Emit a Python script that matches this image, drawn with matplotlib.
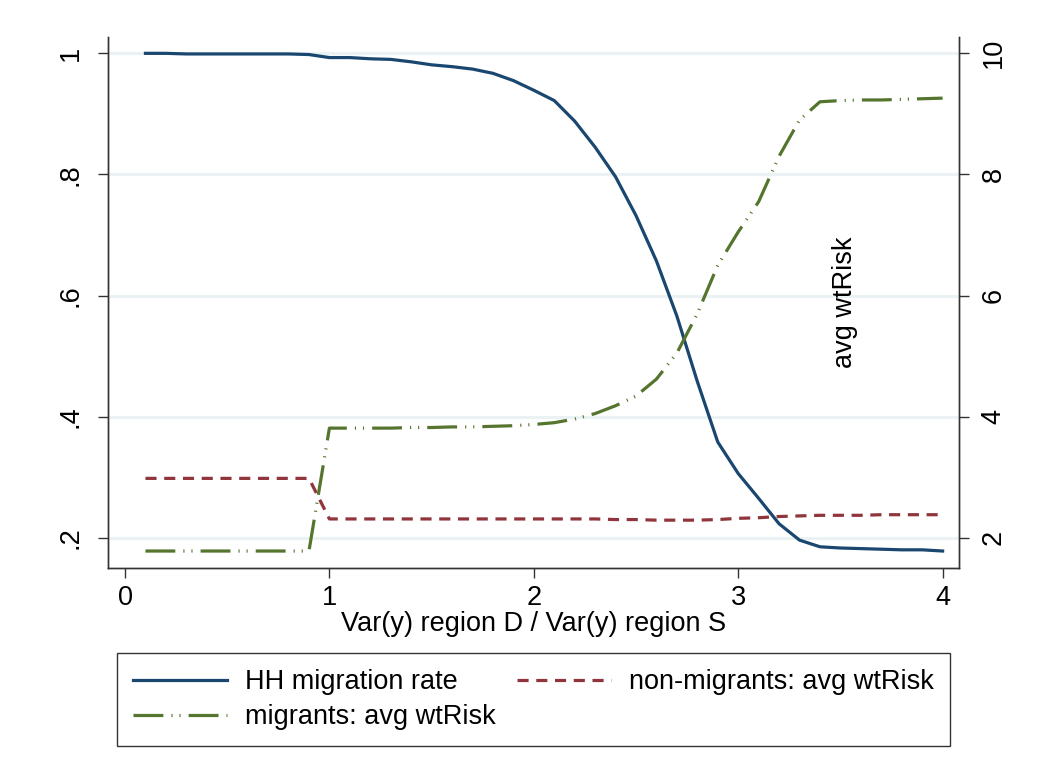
import matplotlib
matplotlib.use("Agg")
import matplotlib.pyplot as plt
import numpy as np

plt.rcParams['font.family'] = ['Liberation Sans', 'DejaVu Sans']
plt.rcParams['lines.scale_dashes'] = False

# Data
x = [0.1, 0.2, 0.3, 0.4, 0.5, 0.6, 0.7, 0.8, 0.9, 1.0,
     1.1, 1.2, 1.3, 1.4, 1.5, 1.6, 1.7, 1.8, 1.9, 2.0,
     2.1, 2.2, 2.3, 2.4, 2.5, 2.6, 2.7, 2.8, 2.9, 3.0,
     3.1, 3.2, 3.3, 3.4, 3.5, 3.6, 3.7, 3.8, 3.9, 4.0]
hh_rate = [1.0, 1.0, 0.999, 0.999, 0.999, 0.999, 0.999, 0.999, 0.998, 0.993,
           0.993, 0.991, 0.990, 0.986, 0.981, 0.978, 0.974, 0.967, 0.955, 0.939,
           0.922, 0.888, 0.845, 0.796, 0.732, 0.657, 0.566, 0.458, 0.358, 0.306,
           0.265, 0.223, 0.196, 0.185, 0.183, 0.182, 0.181, 0.180, 0.180, 0.178]
nonmig_risk = [2.98, 2.98, 2.98, 2.98, 2.98, 2.98, 2.98, 2.98, 2.98, 2.31,
               2.31, 2.31, 2.31, 2.31, 2.31, 2.31, 2.31, 2.31, 2.31, 2.31,
               2.31, 2.31, 2.31, 2.30, 2.30, 2.29, 2.29, 2.29, 2.30, 2.32,
               2.33, 2.35, 2.36, 2.37, 2.37, 2.37, 2.38, 2.38, 2.38, 2.38]
mig_risk = [1.78, 1.78, 1.78, 1.78, 1.78, 1.78, 1.78, 1.78, 1.78, 3.81,
            3.81, 3.81, 3.81, 3.82, 3.82, 3.83, 3.83, 3.84, 3.85, 3.87,
            3.90, 3.96, 4.05, 4.18, 4.34, 4.62, 5.05, 5.70, 6.50, 7.05,
            7.55, 8.30, 8.90, 9.20, 9.22, 9.23, 9.23, 9.24, 9.25, 9.26]

xticks = [0, 1, 2, 3, 4]
yticks_left = [0.2, 0.4, 0.6, 0.8, 1.0]
yticklabels_left = ['.2', '.4', '.6', '.8', '1']
yticks_right = [2, 4, 6, 8, 10]

blue = '#1a476f'
red = '#90353b'
green = '#55752f'
grid_c = '#eaf2f3'
FS = 19.5

fig = plt.figure(figsize=(10.53, 7.69), dpi=100)
ax = fig.add_axes([0.1026, 0.2614, 0.8081, 0.6905])
ax2 = ax.twinx()

ax.set_xlim(-0.083, 4.08)
ax.set_ylim(0.15, 1.027)
ax2.set_ylim(1.5, 10.27)

for yv in yticks_left:
    ax.axhline(yv, color=grid_c, lw=2.2, zorder=0)

l1, = ax.plot(x, hh_rate, color=blue, lw=2.3, zorder=3, label='HH migration rate')
l3, = ax2.plot(x, nonmig_risk, color=red, lw=2.3, zorder=3,
               label='non-migrants: avg wtRisk')
l3.set_dashes([8, 5.5])
l2, = ax2.plot(x, mig_risk, color=green, lw=2.3, zorder=3,
               label='migrants: avg wtRisk')
l2.set_dashes([21.5, 5.8, 0.8, 5.0, 0.8, 5.8])

ax.set_xticks(xticks)
ax.set_xticklabels([str(v) for v in xticks])
ax.set_yticks(yticks_left)
ax.set_yticklabels(yticklabels_left, rotation=90, va='center')
ax2.set_yticks(yticks_right)
ax2.set_yticklabels([str(v) for v in yticks_right], rotation=90, va='center')

for a in (ax, ax2):
    a.spines['top'].set_visible(False)
    for s in a.spines.values():
        s.set_color('#333333')
        s.set_linewidth(1.0)
    a.tick_params(labelsize=FS, length=7.5, width=1.0, color='#333333')
ax.tick_params(axis='x', length=7.5, pad=5)
ax.tick_params(axis='y', pad=10)
ax2.tick_params(axis='y', pad=8)

ax.set_xlabel('Var(y) region D / Var(y) region S', fontsize=FS, labelpad=0)
ax.text(0.866, 0.50, 'avg wtRisk', transform=ax.transAxes, rotation=90,
        fontsize=FS, ha='center', va='center')

leg = fig.legend(handles=[l1, l2, l3], ncol=2, loc='upper left',
                 bbox_to_anchor=(0.111, 0.035, 0.791, 0.116), mode='expand',
                 fontsize=FS, frameon=True, fancybox=False, handlelength=3.47,
                 handletextpad=0.66, borderaxespad=0, labelspacing=0.33,
                 borderpad=0.6)
leg.get_frame().set_edgecolor('black')
leg.get_frame().set_linewidth(1.0)

fig.savefig('out.png', dpi=100, facecolor='white')
